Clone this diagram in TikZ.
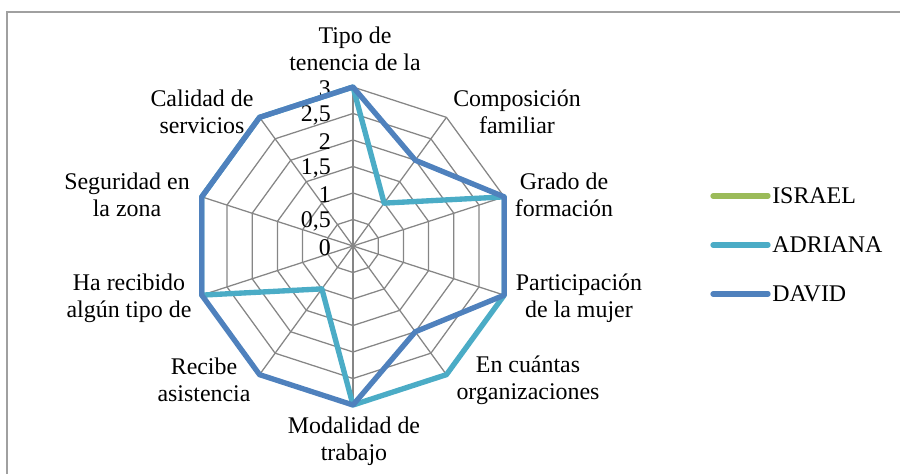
\documentclass[tikz,border=0pt]{standalone}
\usepackage{fontspec}
\setmainfont{Liberation Serif}
\definecolor{israelgreen}{RGB}{155,187,89}
\definecolor{adrianacyan}{RGB}{75,172,198}
\definecolor{davidblue}{RGB}{79,129,189}
\definecolor{gridgray}{RGB}{134,134,134}
\definecolor{framegray}{RGB}{160,160,160}
\begin{document}
\begin{tikzpicture}[x=0.025cm, y=0.025cm, font=\fontsize{17}{19.2}\selectfont,
	gridline/.style={gridgray, line width=0.9pt},
	serie/.style={line width=3.8pt, line join=round},
	axislabel/.style={align=center, inner sep=0pt},
	ticklabel/.style={anchor=east, inner sep=0pt},
	legline/.style={line width=3.8pt, line cap=round}]
		\useasboundingbox (-353,-228) rectangle (547,246);
		\draw[framegray, line width=1.2pt] (-346,-228) -- (-346,234) -- (547,234);
		% web
		\foreach \r in {1,...,6}
			\draw[gridline] (90:\r*26.5) \foreach \a in {1,...,9} {-- (90-36*\a:\r*26.5)} -- cycle;
		\foreach \a in {0,...,9}
			\draw[gridline] (0,0) -- (90-36*\a:159);
		\foreach \t [count=\k from 0] in {0,{0,5},1,{1,5},2,{2,5},3}
			\node[ticklabel] (tick\k) at (-22,\k*26.5-2) {\t};
		% series
		\draw[serie, adrianacyan] (90:159) -- (54:53) -- (18:159) -- (-18:159) -- (-54:159) -- (-90:159)
			-- (-126:53) -- (-162:159) -- (-198:159) -- (-234:159) -- cycle;
		\draw[serie, davidblue] (90:159) -- (54:106) -- (18:159) -- (-18:159) -- (-54:106) -- (-90:159)
			-- (-126:159) -- (-162:159) -- (-198:159) -- (-234:159) -- cycle;
		% axis labels
		\node[axislabel] (tipo) at (2,197) {Tipo de\\tenencia de la};
		\node[axislabel] (composicion) at (164,134) {Composición\\familiar};
		\node[axislabel] (grado) at (211,51) {Grado de\\formación};
		\node[axislabel] (participacion) at (226,-52) {Participación\\de la mujer};
		\node[axislabel] (cuantas) at (175,-134) {En cuántas\\organizaciones};
		\node[axislabel] (modalidad) at (1,-195) {Modalidad de\\trabajo};
		\node[axislabel] (recibe) at (-149,-134) {Recibe\\asistencia};
		\node[axislabel] (harecibido) at (-224,-52) {Ha recibido\\algún tipo de};
		\node[axislabel] (seguridad) at (-226,51) {Seguridad en\\la zona};
		\node[axislabel] (calidad) at (-151,134) {Calidad de\\servicios};
		% legend
		\draw[legline, israelgreen] (360,50) -- (415,50);
		\draw[legline, adrianacyan] (360,1) -- (415,1);
		\draw[legline, davidblue] (360,-48) -- (415,-48);
		\node[anchor=west, inner sep=0pt] (legisrael) at (419,50) {ISRAEL};
		\node[anchor=west, inner sep=0pt] (legadriana) at (419,1) {ADRIANA};
		\node[anchor=west, inner sep=0pt] (legdavid) at (419,-48) {DAVID};
	\end{tikzpicture}
\end{document}
